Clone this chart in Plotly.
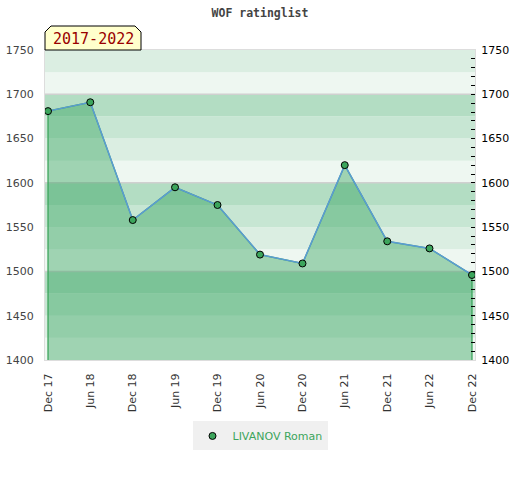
import plotly.graph_objects as go

# ---- data ----
dates = ["2017-12-01", "2018-06-01", "2018-12-01", "2019-06-01", "2019-12-01",
         "2020-06-01", "2020-12-01", "2021-06-01", "2021-12-01", "2022-06-01", "2022-12-01"]
tick_labels = ["Dec 17", "Jun 18", "Dec 18", "Jun 19", "Dec 19", "Jun 20",
               "Dec 20", "Jun 21", "Dec 21", "Jun 22", "Dec 22"]
ratings = [1681, 1691, 1558, 1595, 1575, 1519, 1509, 1620, 1534, 1526, 1496]
player = "LIVANOV Roman"
period = "2017-2022"
y_min, y_max = 1400, 1750

band_colors = ["#eef7f1", "#dbeee2", "#c7e6d3", "#b3ddc3"]  # within each 100 block, bottom->top

W, H = 520, 480

fig = go.Figure()

# fill polygon (area under the line down to axis minimum)
fig.add_trace(go.Scatter(
    x=[dates[0]] + dates + [dates[-1]],
    y=[y_min] + ratings + [y_min],
    mode="lines", fill="toself",
    fillcolor="rgba(39,158,85,0.4)",
    line=dict(color="#3ca55c", width=1.3),
    showlegend=False, hoverinfo="skip"))

# blue line
fig.add_trace(go.Scatter(
    x=dates, y=ratings, mode="lines",
    line=dict(color="#5b9bd5", width=1.5),
    showlegend=False, hoverinfo="skip"))

# markers (legend item)
fig.add_trace(go.Scatter(
    x=dates, y=ratings, mode="markers", name=player,
    marker=dict(color="#3ca55c", size=7, line=dict(color="#000000", width=1)),
    hoverinfo="skip"))

# invisible trace for right axis
fig.add_trace(go.Scatter(x=[dates[0]], y=[y_min], yaxis="y2", mode="markers",
                         marker=dict(opacity=0), showlegend=False, hoverinfo="skip"))

# background bands
shapes = []
for i, lo in enumerate(range(y_min, y_max, 25)):
    shapes.append(dict(type="rect", xref="paper", yref="y", x0=0, x1=1, y0=lo, y1=lo + 25,
                       fillcolor=band_colors[i % 4], line=dict(width=0), layer="below"))

# gridlines every 100
for v in range(y_min + 100, y_max, 100):
    shapes.append(dict(type="line", xref="paper", yref="y", x0=0, x1=1, y0=v, y1=v,
                       line=dict(color="#d0d0d0", width=1.5), layer="below"))

# period label box
shapes.append(dict(type="path", xref="paper", yref="paper",
                   xsizemode="pixel", ysizemode="pixel", xanchor=0, yanchor=1,
                   path="M 0,0 L 0,18 L 6,24 L 90,24 L 96,18 L 96,0 Z",
                   fillcolor="#ffffcc", line=dict(color="#000000", width=1), layer="above"))

fig.update_layout(
    width=W, height=H,
    margin=dict(l=45, r=45, t=50, b=120, autoexpand=False),
    paper_bgcolor="white", plot_bgcolor="white",
    title=dict(text="<b>WOF ratinglist</b>", x=0.5, xanchor="center",
               y=1 - 13 / H, yanchor="middle", yref="container",
               font=dict(family="DejaVu Sans Mono", size=11.5, color="#444444")),
    shapes=shapes,
    annotations=[dict(text=period, xref="paper", yref="paper", x=0, y=1,
                      xanchor="center", yanchor="middle", xshift=48, yshift=11,
                      showarrow=False,
                      font=dict(family="DejaVu Sans Mono", size=15, color="#990000"))],
    xaxis=dict(type="date", range=["2017-11-18", "2022-12-14"], automargin=False,
               tickvals=dates, ticktext=tick_labels, tickangle=-90,
               ticks="", ticklabelstandoff=8,
               tickfont=dict(family="DejaVu Sans", size=11, color="#333333"),
               showgrid=False, zeroline=False,
               showline=True, linecolor="#dddddd", linewidth=1, mirror=True),
    yaxis=dict(range=[y_min, y_max], dtick=50, tick0=y_min, automargin=False,
               tickfont=dict(family="DejaVu Sans", size=11, color="#444444"),
               ticks="", ticklabelstandoff=8,
               showgrid=False, zeroline=False,
               showline=True, linecolor="#dddddd", linewidth=1),
    yaxis2=dict(range=[y_min, y_max], dtick=50, tick0=y_min, overlaying="y", side="right",
                automargin=False,
                tickfont=dict(family="DejaVu Sans", size=11, color="#000000"),
                ticks="inside", ticklen=4, tickcolor="#000000", tickwidth=1,
                minor=dict(dtick=10, ticks="inside", ticklen=4, tickcolor="#000000"),
                ticklabelstandoff=3,
                showgrid=False, zeroline=False,
                showline=True, linecolor="#dddddd", linewidth=1),
    legend=dict(orientation="h", x=0.5, xanchor="center", y=-0.245, yanchor="middle",
                bgcolor="#f0f0f0", font=dict(family="DejaVu Sans", size=11, color="#3ca55c"),
                itemwidth=30),
)

# remove the default page margin so the 520x480 figure fills the window exactly
fig.write_html("out.html", config={"displayModeBar": False},
               post_script="document.body.style.margin='0px';")
